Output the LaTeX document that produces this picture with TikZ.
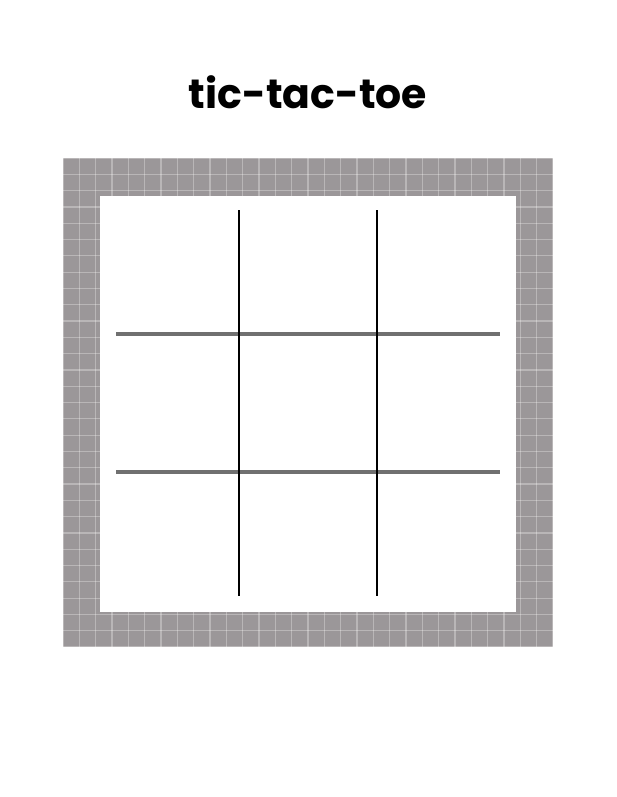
\documentclass[tikz,border=0pt]{standalone}
\usepackage{fontspec}
\setmainfont{Poppins}
\definecolor{framegray}{HTML}{9B9799}
\definecolor{hgray}{HTML}{707070}
\begin{document}
\begin{tikzpicture}[x=1pt,y=-1pt,
  vline/.style={line width=2.4pt,draw=black},
  hline/.style={line width=3.4pt,draw=hgray},
  gridline/.style={draw=white,opacity=0.3,line width=1.2pt}]
\useasboundingbox[fill=white] (0,0) rectangle (616,797);
\node[font=\bfseries\fontsize{41}{44}\selectfont] (title) at (308,92) {tic-tac-toe};
% frame
\fill[framegray] (63,158) rectangle (553,647);
\begin{scope}
\clip (63,158) rectangle (553,647);
\foreach \i in {0,...,30} {
  \draw[gridline] (63+\i*16.33,158) -- (63+\i*16.33,647);
  \draw[gridline] (63,158+\i*16.3) -- (553,158+\i*16.3);
}
\end{scope}
\fill[white] (100,196) rectangle (516,612);
% board
\coordinate (v1t) at (239,210); \coordinate (v1b) at (239,596);
\coordinate (v2t) at (377,210); \coordinate (v2b) at (377,596);
\coordinate (h1l) at (116,334); \coordinate (h1r) at (500,334);
\coordinate (h2l) at (116,472); \coordinate (h2r) at (500,472);
\draw[hline] (h1l) -- (h1r);
\draw[hline] (h2l) -- (h2r);
\draw[vline] (v1t) -- (v1b);
\draw[vline] (v2t) -- (v2b);
\end{tikzpicture}
\end{document}
